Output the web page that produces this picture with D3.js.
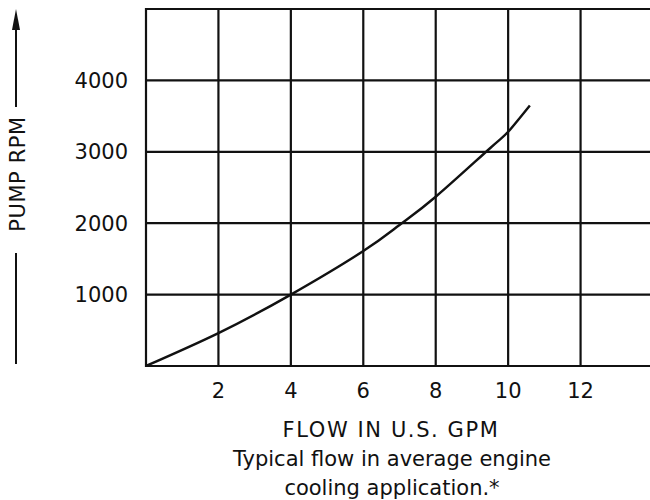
<!DOCTYPE html>
<html>
<head>
    <title>Pump RPM vs Flow</title>
    <script src="https://d3js.org/d3.v7.min.js"></script>
    <style>
        body { margin: 0; padding: 0; background: #fff; }
        svg text {
            font-family: "DejaVu Sans", Arial, sans-serif;
            font-size: 21px;
            fill: #111;
        }
        .grid line { stroke: #111; stroke-width: 2.2px; }
        .curve { fill: none; stroke: #111; stroke-width: 2.4px; }
    </style>
</head>
<body>
    <div id="chart"></div>
    <script>
        // values
        const flow = [0, 2, 4, 6, 7, 8, 9.5, 10, 10.6];
        const rpm = [0, 460, 1000, 1610, 1975, 2370, 3050, 3280, 3650];
        const xTicks = [2, 4, 6, 8, 10, 12];
        const xGrid = [0, 2, 4, 6, 8, 10, 12, 14];
        const yTicks = [1000, 2000, 3000, 4000];
        const yGrid = [0, 1000, 2000, 3000, 4000, 5000];

        const width = 650;
        const height = 500;

        const svg = d3.select("#chart")
            .append("svg")
            .attr("width", width)
            .attr("height", height);

        const x = d3.scaleLinear().domain([0, 14]).range([146, 653]);
        const y = d3.scaleLinear().domain([0, 5000]).range([366, 9]);

        // grid
        const grid = svg.append("g").attr("class", "grid");
        grid.selectAll(".v")
            .data(xGrid)
            .enter()
            .append("line")
            .attr("x1", d => x(d)).attr("x2", d => x(d))
            .attr("y1", y(5000) - 1).attr("y2", y(0) + 1);
        grid.selectAll(".h")
            .data(yGrid)
            .enter()
            .append("line")
            .attr("x1", x(0) - 1).attr("x2", width)
            .attr("y1", d => y(d)).attr("y2", d => y(d));

        // tick labels
        svg.selectAll(".xt")
            .data(xTicks)
            .enter()
            .append("text")
            .attr("x", d => x(d))
            .attr("y", 398)
            .attr("text-anchor", "middle")
            .text(d => d);

        svg.selectAll(".yt")
            .data(yTicks)
            .enter()
            .append("text")
            .attr("x", 128)
            .attr("y", d => y(d))
            .attr("dy", "0.36em")
            .attr("text-anchor", "end")
            .text(d => d);

        // the curve
        const line = d3.line()
            .x((d, i) => x(flow[i]))
            .y(d => y(d))
            .curve(d3.curveNatural);

        svg.append("path")
            .attr("class", "curve")
            .attr("d", line(rpm));

        // axis titles
        svg.append("text")
            .attr("x", 391)
            .attr("y", 437)
            .attr("text-anchor", "middle")
            .style("letter-spacing", "1.6px")
            .text("FLOW IN U.S. GPM");
        svg.append("text")
            .attr("x", 392)
            .attr("y", 466)
            .attr("text-anchor", "middle")
            .text("Typical flow in average engine");
        svg.append("text")
            .attr("x", 392)
            .attr("y", 495)
            .attr("text-anchor", "middle")
            .text("cooling application.*");

        // y title with arrow
        svg.append("text")
            .attr("transform", "translate(17,174) rotate(-90)")
            .attr("text-anchor", "middle")
            .attr("dy", "0.36em")
            .style("letter-spacing", "0.6px")
            .text("PUMP RPM");

        svg.append("line")
            .attr("x1", 16).attr("x2", 16)
            .attr("y1", 107).attr("y2", 26)
            .attr("stroke", "#111").attr("stroke-width", 2);
        svg.append("path")
            .attr("d", "M16,9 L12,30 L20,30 Z")
            .attr("fill", "#111");
        svg.append("line")
            .attr("x1", 16).attr("x2", 16)
            .attr("y1", 253).attr("y2", 364)
            .attr("stroke", "#111").attr("stroke-width", 2);
    </script>
</body>
</html>
